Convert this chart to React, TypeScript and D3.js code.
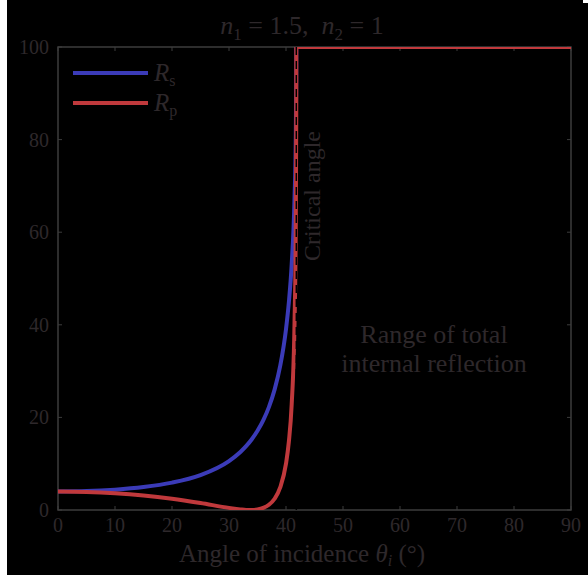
import React from 'react';
import * as d3 from 'd3';

// angle of incidence (deg) and reflectance (%)
const angles = [0, 5, 10, 15, 20, 25, 30, 32, 33, 34, 35, 36, 37, 38, 39, 40, 40.5, 41, 41.5, 41.7, 41.8, 41.81, 50, 60, 70, 80, 90];
const rsValues = [4.0, 4.09, 4.39, 4.95, 5.91, 7.55, 10.58, 12.54, 13.79, 15.29, 17.11, 19.36, 22.23, 26.0, 31.22, 39.06, 44.83, 53.1, 67.51, 79.07, 93.09, 100, 100, 100, 100, 100, 100];
const rpValues = [4.0, 3.91, 3.63, 3.15, 2.44, 1.51, 0.46, 0.13, 0.02, 0.01, 0.12, 0.45, 1.13, 2.43, 4.92, 10.01, 14.73, 22.85, 40.82, 58.82, 85.12, 100, 100, 100, 100, 100, 100];
const xTicks = [0, 10, 20, 30, 40, 50, 60, 70, 80, 90];
const yTicks = [0, 20, 40, 60, 80, 100];
const criticalAngle = 41.81;

const W = 588;
const H = 575;
const left = 58, right = 571, top = 47, bottom = 510;
const textColor = '#2e282b';
const axisColor = '#3c3c3c';
const blue = '#3b3bb8';
const red = '#c0393c';
const font = '"Liberation Serif", "Times New Roman", serif';

export default function App() {
  const x = d3.scaleLinear().domain([0, 90]).range([left, right]);
  const y = d3.scaleLinear().domain([0, 100]).range([bottom, top]);

  const line = (vals: number[]) =>
    d3.line<number>()
      .x((_, i) => x(angles[i]))
      .y((d) => y(d))
      .curve(d3.curveMonotoneX)(vals) || '';

  return (
    <svg width={W} height={H} style={{ position: 'absolute', left: 0, top: 0, display: 'block' }} fontFamily={font}>
      <rect x={0} y={0} width={W} height={H} fill="#ffffff" />
      <rect x={7} y={0} width={W - 7} height={H} fill="#000000" />
      <rect x={583} y={0} width={5} height={3} fill="#ffffff" />
      <defs>
        <clipPath id="plot">
          <rect x={left} y={top} width={right - left} height={bottom - top} />
        </clipPath>
      </defs>

      {/* frame */}
      <rect x={left} y={top} width={right - left} height={bottom - top} fill="none" stroke={axisColor} strokeWidth={1.5} />
      {xTicks.map((t) => (
        <g key={'xt' + t}>
          <line x1={x(t)} x2={x(t)} y1={bottom} y2={bottom - 4} stroke={axisColor} strokeWidth={1} />
          <line x1={x(t)} x2={x(t)} y1={top} y2={top + 4} stroke={axisColor} strokeWidth={1} />
          <text x={x(t)} y={bottom + 22} textAnchor="middle" fontSize={20} fill={textColor}>{t}</text>
        </g>
      ))}
      {yTicks.map((t) => (
        <g key={'yt' + t}>
          <line x1={left} x2={left + 4} y1={y(t)} y2={y(t)} stroke={axisColor} strokeWidth={1} />
          <line x1={right} x2={right - 4} y1={y(t)} y2={y(t)} stroke={axisColor} strokeWidth={1} />
          <text x={left - 9} y={y(t) + 7} textAnchor="end" fontSize={20} fill={textColor}>{t}</text>
        </g>
      ))}

      {/* curves */}
      <g clipPath="url(#plot)">
        <path d={line(rsValues)} fill="none" stroke={blue} strokeWidth={4} />
        <path d={line(rpValues)} fill="none" stroke={red} strokeWidth={4} />
        <line x1={x(criticalAngle)} x2={x(criticalAngle)} y1={y(100)} y2={y(0)}
          stroke="#000" strokeWidth={1.5} strokeDasharray="8,6" />
      </g>

      {/* legend */}
      <line x1={73} x2={148} y1={73} y2={73} stroke={blue} strokeWidth={4} />
      <line x1={73} x2={148} y1={103} y2={103} stroke={red} strokeWidth={4} />
      <text x={154} y={81} fontSize={25} fill={textColor}>
        <tspan fontStyle="italic">R</tspan>
        <tspan fontSize={16} dy={5}>s</tspan>
      </text>
      <text x={154} y={111} fontSize={25} fill={textColor}>
        <tspan fontStyle="italic">R</tspan>
        <tspan fontSize={16} dy={5}>p</tspan>
      </text>

      {/* annotations */}
      <text transform={`translate(320,196) rotate(-90)`} textAnchor="middle" fontSize={24} fill={textColor}>Critical angle</text>
      <text x={434} y={343} textAnchor="middle" fontSize={26} fill={textColor}>Range of total</text>
      <text x={434} y={372} textAnchor="middle" fontSize={26} fill={textColor}>internal reflection</text>

      {/* title */}
      <text x={302} y={34} textAnchor="middle" fontSize={26} fill={textColor}>
        <tspan fontStyle="italic">n</tspan>
        <tspan fontSize={17} dy={6}>1</tspan>
        <tspan dy={-6}>{'\u00a0= 1.5,\u00a0\u00a0'}</tspan>
        <tspan fontStyle="italic">n</tspan>
        <tspan fontSize={17} dy={6}>2</tspan>
        <tspan dy={-6}>{'\u00a0= 1'}</tspan>
      </text>

      {/* x-axis label */}
      <text x={302} y={562} textAnchor="middle" fontSize={25} fill={textColor}>
        {'Angle of incidence '}
        <tspan fontStyle="italic">θ</tspan>
        <tspan fontStyle="italic" fontSize={16} dy={4}>i</tspan>
        <tspan dy={-4}>{'\u00a0(°)'}</tspan>
      </text>
    </svg>
  );
}
